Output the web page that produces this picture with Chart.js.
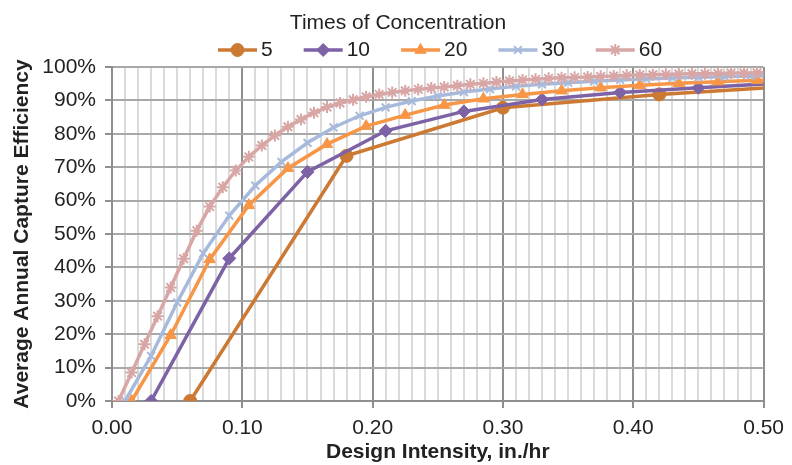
<!DOCTYPE html>
<html><head><meta charset="utf-8">
<script src="https://cdn.jsdelivr.net/npm/chart.js@4.4.1/dist/chart.umd.min.js"></script>
<style>html,body{margin:0;padding:0;background:#fff}#wrap{width:792px;height:465px;position:relative}</style>
</head><body><div id="wrap"><canvas id="c"></canvas></div>
<script>
// ---- data ----
const seriesNames = ['5', '10', '20', '30', '60'];
const legendTitle = 'Times of Concentration';
const xTitle = 'Design Intensity, in./hr';
const yTitle = 'Average Annual Capture Efficiency';

const x5 = [0.06, 0.18, 0.30, 0.42, 0.54];
const y5 = [0, 73.4, 87.8, 91.8, 94.7];

const x10 = [0.03, 0.09, 0.15, 0.21, 0.27, 0.33, 0.39, 0.45, 0.51];
const y10 = [0, 42.7, 68.6, 80.9, 86.7, 90.3, 92.4, 93.8, 95.1];

const x20 = [0.015, 0.045, 0.075, 0.105, 0.135, 0.165, 0.195, 0.225, 0.255, 0.285, 0.315, 0.345, 0.375, 0.405, 0.435, 0.465, 0.495, 0.525];
const y20 = [0, 19.7, 42.4, 58.6, 69.7, 76.9, 82.3, 85.6, 88.6, 90.5, 91.8, 92.9, 93.8, 94.5, 95.1, 95.6, 96.0, 96.3];

const x30 = [0.01, 0.03, 0.05, 0.07, 0.09, 0.11, 0.13, 0.15, 0.17, 0.19, 0.21, 0.23, 0.25, 0.27, 0.29, 0.31, 0.33, 0.35, 0.37, 0.39, 0.41, 0.43, 0.45, 0.47, 0.49, 0.51];
const y30 = [0, 13.5, 29.5, 44.2, 55.5, 64.5, 71.6, 77.3, 81.9, 85.4, 87.9, 89.8, 91.3, 92.5, 93.4, 94.2, 94.8, 95.3, 95.7, 96.1, 96.4, 96.7, 96.9, 97.1, 97.3, 97.4];

const x60 = [0.005, 0.015, 0.025, 0.035, 0.045, 0.055, 0.065, 0.075, 0.085, 0.095,
             0.105, 0.115, 0.125, 0.135, 0.145, 0.155, 0.165, 0.175, 0.185, 0.195,
             0.205, 0.215, 0.225, 0.235, 0.245, 0.255, 0.265, 0.275, 0.285, 0.295,
             0.305, 0.315, 0.325, 0.335, 0.345, 0.355, 0.365, 0.375, 0.385, 0.395,
             0.405, 0.415, 0.425, 0.435, 0.445, 0.455, 0.465, 0.475, 0.485, 0.495, 0.505];
const y60 = [0, 8.5, 17, 25.4, 34, 42.6, 51, 58.2, 64, 69,
             73.1, 76.5, 79.5, 82.1, 84.3, 86.3, 88, 89.2, 90.2, 91.1,
             91.8, 92.4, 92.9, 93.3, 93.7, 94.0, 94.4, 94.8, 95.1, 95.5,
             95.8, 96.1, 96.3, 96.6, 96.8, 96.9, 97.0, 97.2, 97.3, 97.5,
             97.6, 97.7, 97.8, 97.9, 98.0, 98.0, 98.1, 98.2, 98.2, 98.3, 98.4];

const xMin = 0, xMax = 0.5, xStep = 0.01;
const yMin = 0, yMax = 100, yStep = 10;

// ---- styles ----
const FAMILY = '"Liberation Sans", Arial, Helvetica, sans-serif';
const TEXT = '#222222';
const FS = 21;
const seriesX = [x5, x10, x20, x30, x60];
const seriesY = [y5, y10, y20, y30, y60];
const colors = ['#CC7A33', '#7D62A6', '#F79646', '#A8BADC', '#D9A6A6'];
const markers = ['circle', 'rectRot', 'triangle', 'crossRot', 'star'];
const radii = [6.5, 6.5, 6.5, 5.5, 6];
const pbw = [1, 1, 1, 2, 2];

const datasets = seriesNames.map((name, i) => ({
  label: name,
  data: seriesX[i].map((v, j) => ({x: v, y: seriesY[i][j]})),
  borderColor: colors[i],
  backgroundColor: colors[i],
  pointBackgroundColor: colors[i],
  pointBorderColor: colors[i],
  pointStyle: markers[i],
  pointRadius: radii[i],
  pointBorderWidth: pbw[i],
  borderWidth: 3.5,
  tension: 0,
  order: seriesNames.length - i
}));

const isMajor = v => Math.round(v * 100) % 10 === 0;

const legendPlugin = {
  id: 'customLegend',
  afterDraw(chart) {
    const ctx = chart.ctx;
    ctx.save();
    ctx.font = FS + 'px ' + FAMILY;
    ctx.fillStyle = TEXT;
    ctx.textBaseline = 'middle';
    ctx.textAlign = 'center';
    ctx.fillText(legendTitle, 398, 23);
    let x = 218;
    const y = 50;
    chart.data.datasets.forEach(ds => {
      ctx.strokeStyle = ds.borderColor;
      ctx.lineWidth = 3.5;
      ctx.beginPath(); ctx.moveTo(x, y); ctx.lineTo(x + 39, y); ctx.stroke();
      ctx.fillStyle = ds.pointBackgroundColor;
      ctx.strokeStyle = ds.pointBorderColor;
      ctx.lineWidth = ds.pointBorderWidth;
      if (Chart.helpers && Chart.helpers.drawPoint) {
        Chart.helpers.drawPoint(ctx, {pointStyle: ds.pointStyle, radius: ds.pointRadius, borderWidth: ds.pointBorderWidth, rotation: 0}, x + 19.5, y);
      } else {
        ctx.beginPath(); ctx.arc(x + 19.5, y, ds.pointRadius, 0, Math.PI * 2); ctx.fill();
      }
      ctx.fillStyle = TEXT;
      ctx.textAlign = 'left';
      ctx.fillText(ds.label, x + 43, y);
      x += 43 + ctx.measureText(ds.label).width + 31;
    });
    ctx.restore();
  }
};

new Chart(document.getElementById('c'), {
  type: 'line',
  data: {datasets},
  plugins: [legendPlugin],
  options: {
    responsive: true,
    maintainAspectRatio: false,
    animation: false,
    layout: {padding: {top: 67, right: 23, left: 0, bottom: 0}},
    plugins: {legend: {display: false}, tooltip: {enabled: false}},
    scales: {
      x: {
        type: 'linear', min: xMin, max: xMax,
        ticks: {
          stepSize: xStep, autoSkip: false, maxRotation: 0, minRotation: 0, padding: 8,
          color: TEXT, font: {size: FS, family: FAMILY},
          callback: v => isMajor(v) ? v.toFixed(2) : ''
        },
        grid: {
          color: c => isMajor(c.tick.value) ? '#8f8f8f' : '#dadada',
          lineWidth: 2, tickLength: 7, tickWidth: 2,
          tickColor: c => isMajor(c.tick.value) ? '#8f8f8f' : 'rgba(0,0,0,0)'
        },
        border: {color: '#8f8f8f', width: 2},
        title: {display: true, text: xTitle, color: TEXT, font: {size: FS, weight: 'bold', family: FAMILY}, padding: {top: 0, bottom: 0}},
        afterFit: s => { s.height = 64; }
      },
      y: {
        type: 'linear', min: yMin, max: yMax,
        ticks: {
          stepSize: yStep, padding: 9, color: TEXT, font: {size: FS, family: FAMILY},
          callback: v => v + '%'
        },
        grid: {color: '#a8a8a8', lineWidth: 2, tickLength: 7, tickWidth: 2, tickColor: '#8f8f8f'},
        border: {color: '#8f8f8f', width: 2},
        title: {display: true, text: yTitle, color: TEXT, font: {size: FS, weight: 'bold', family: FAMILY}, padding: {top: 10, bottom: 0}},
        afterFit: s => { s.width = 112; }
      }
    }
  }
});
</script>
</body></html>
